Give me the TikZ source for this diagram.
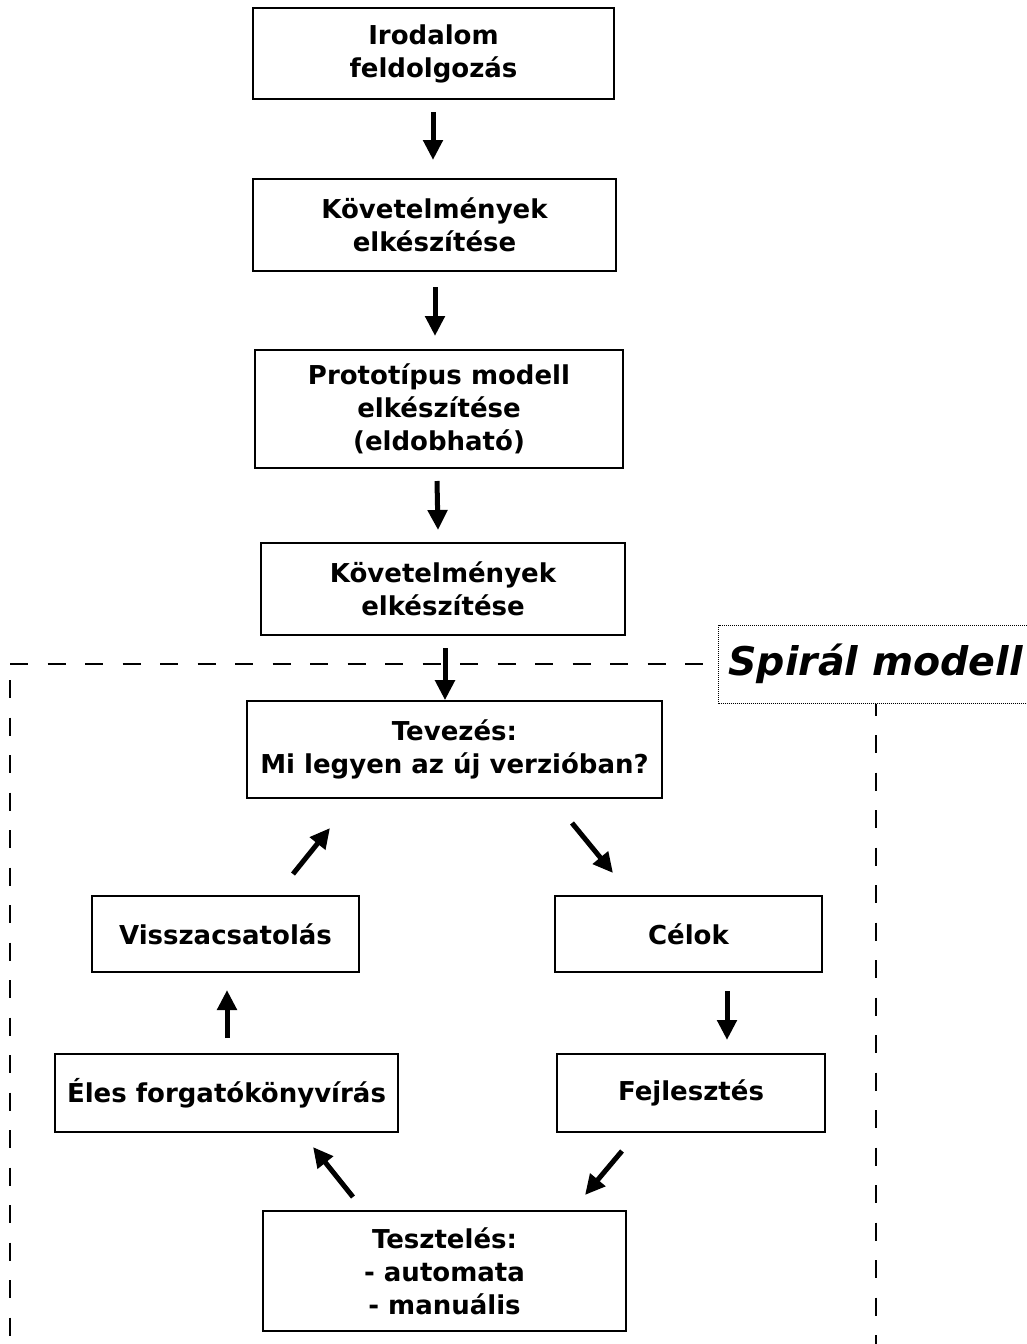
\documentclass[tikz,border=0pt]{standalone}
\usepackage{fontspec}
\setmainfont{DejaVu Sans}
\usetikzlibrary{arrows.meta}
\begin{document}
\begin{tikzpicture}[x=1pt,y=-1pt,
  box/.style={draw, line width=1.6pt, align=center, inner sep=0pt,
    font=\bfseries\fontsize{26}{33}\selectfont},
  arr/.style={line width=5pt, -{Triangle[length=20pt,width=19pt]}},
  frame/.style={line width=2pt, dash pattern=on 18pt off 19.5pt},
  tag/.style={draw, line width=1pt, dash pattern=on 1pt off 1pt,
    inner xsep=10pt, minimum height=78pt,
    font=\bfseries\itshape\fontsize{39.5}{39.5}\selectfont}]
\useasboundingbox (0,0) rectangle (1026,1344);

% linear part
\node[box, minimum width=361pt, minimum height=91pt]  (lit)   at (433.5,53.5) {Irodalom\\feldolgozás};
\node[box, minimum width=363pt, minimum height=92pt]  (req1)  at (434.5,225)  {Követelmények\\elkészítése};
\node[box, minimum width=368pt, minimum height=118pt] (proto) at (439,409)    {Prototípus modell\\elkészítése\\(eldobható)};
\node[box, minimum width=364pt, minimum height=92pt]  (req2)  at (443,589)    {Követelmények\\elkészítése};

% spiral part
\node[box, minimum width=415pt, minimum height=97pt]  (tev)    at (454.5,749.5) {Tevezés:\\Mi legyen az új verzióban?};
\node[box, minimum width=267pt, minimum height=76pt]  (vissza) at (225.5,934)   {Visszacsatolás};
\node[box, minimum width=267pt, minimum height=76pt]  (celok)  at (688.5,934)   {Célok};
\node[box, minimum width=343pt, minimum height=78pt]  (eles)   at (226.5,1093)  {Éles forgatókönyvírás};
\node[box, minimum width=268pt, minimum height=78pt]  (fejl)   at (691,1093)    {Fejlesztés};
\node[box, minimum width=363pt, minimum height=120pt] (teszt)  at (444.5,1271)  {Tesztelés:\\- automata\\- manuális};

% label and frame of the spiral part
\node[tag, anchor=west] (sp) at (718,664) {Spirál modell};
\coordinate (fc) at (10,664);
\coordinate (fl) at (10,1344);
\coordinate (fr) at (876,1344);
\draw[frame] (fc) -- (sp.west);
\draw[frame, dash phase=21.5pt] (fc) -- (fl);
\draw[frame, dash phase=6pt] (sp.south -| fr) -- (fr);

% arrow end points
\coordinate (a1s) at (433,112);  \coordinate (a1e) at (433,160);
\coordinate (a2s) at (435,287);  \coordinate (a2e) at (435,336);
\coordinate (a3s) at (437,481);  \coordinate (a3e) at (438,530);
\coordinate (a4s) at (445,648);
\coordinate (a5s) at (572,823);  \coordinate (a5e) at (613,873);
\coordinate (a6s) at (727,991);  \coordinate (a6e) at (727,1040);
\coordinate (a7s) at (622,1151); \coordinate (a7e) at (585,1195);
\coordinate (a8s) at (353,1197); \coordinate (a8e) at (313,1147);
\coordinate (a9s) at (227,1038); \coordinate (a9e) at (227,990);
\coordinate (a0s) at (293,874);  \coordinate (a0e) at (330,828);

\draw[arr] (a1s) -- (a1e);
\draw[arr] (a2s) -- (a2e);
\draw[arr] (a3s) -- (a3e);
\draw[arr] (a4s) -- (a4s |- tev.north);
\draw[arr] (a5s) -- (a5e);
\draw[arr] (a6s) -- (a6e);
\draw[arr] (a7s) -- (a7e);
\draw[arr] (a8s) -- (a8e);
\draw[arr] (a9s) -- (a9e);
\draw[arr] (a0s) -- (a0e);
\end{tikzpicture}
\end{document}
